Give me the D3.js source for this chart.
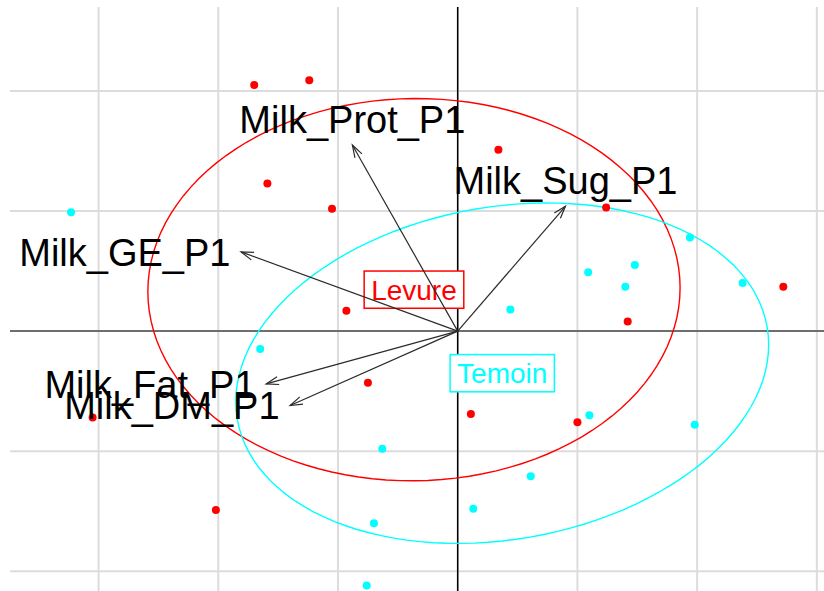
<!DOCTYPE html>
<html>
<head>
<meta charset="utf-8">
<script src="https://cdn.jsdelivr.net/npm/d3@7"></script>
<style>
  html, body { margin: 0; padding: 0; background: #fff; }
  svg { display: block; }
  text { font-family: 'Liberation Sans', Arial, sans-serif; }
</style>
</head>
<body>
<svg id="chart" width="824" height="591"></svg>
<script>
// Row scores on the first two axes, split by class (grid step d = 1)
const levure_x = [-1.70, -1.24, -1.59, -1.05, 0.34, 1.24, 2.72, -0.93, 1.42, -0.75, -3.05, -2.02, 0.11, 1.00, 0.02];
const levure_y = [2.05, 2.09, 1.23, 1.02, 1.51, 1.03, 0.37, 0.17, 0.08, -0.43, -0.72, -1.49, -0.69, -0.76, -0.28];
const temoin_x = [-3.23, 1.94, 1.09, 1.48, 1.40, 2.38, 0.44, -1.65, -0.63, -0.70, -0.76, 1.10, 1.98, 0.61, 0.13];
const temoin_y = [0.99, 0.78, 0.49, 0.55, 0.37, 0.40, 0.18, -0.15, -0.98, -1.60, -2.12, -0.70, -0.78, -1.21, -1.48];

const class_names = ['Levure', 'Temoin'];
const class_colors = ['red', 'cyan'];

// Variable arrows (co-ordinates of the tips)
const var_names = ['Milk_Prot_P1', 'Milk_Sug_P1', 'Milk_GE_P1', 'Milk_Fat_P1', 'Milk_DM_P1'];
const var_x = [-0.88, 0.90, -1.81, -1.60, -1.40];
const var_y = [1.55, 1.04, 0.66, -0.44, -0.62];

const x_lim = [-3.74, 3.11];
const y_lim = [-2.24, 2.70];
const grid_step = 1;
const cellipse = 1.5;

const svg = d3.select('#chart');
const box = { left: 10, top: 7, right: 830, bottom: 600 };

const x = d3.scaleLinear().domain(x_lim).range([box.left, box.right]);
const y = d3.scaleLinear().domain(y_lim).range([box.bottom, box.top]);

svg.append('clipPath')
  .attr('id', 'plot_clip')
  .append('rect')
  .attr('x', box.left).attr('y', box.top)
  .attr('width', box.right - box.left).attr('height', box.bottom - box.top);

const plot = svg.append('g').attr('clip-path', 'url(#plot_clip)');

// grid
const gx = d3.range(Math.ceil(x_lim[0] / grid_step) * grid_step, x_lim[1], grid_step);
const gy = d3.range(Math.ceil(y_lim[0] / grid_step) * grid_step, y_lim[1], grid_step);

plot.append('g').selectAll('line').data(gx).join('line')
  .attr('x1', d => x(d)).attr('x2', d => x(d))
  .attr('y1', box.top).attr('y2', box.bottom)
  .attr('stroke', '#dcdcdc').attr('stroke-width', 2);
plot.append('g').selectAll('line').data(gy).join('line')
  .attr('y1', d => y(d)).attr('y2', d => y(d))
  .attr('x1', box.left).attr('x2', box.right)
  .attr('stroke', '#dcdcdc').attr('stroke-width', 2);

// axes through the origin
plot.append('line')
  .attr('x1', box.left).attr('x2', box.right)
  .attr('y1', y(0)).attr('y2', y(0))
  .attr('stroke', '#6e6e6e').attr('stroke-width', 2);
plot.append('line')
  .attr('x1', x(0)).attr('x2', x(0))
  .attr('y1', box.top).attr('y2', box.bottom)
  .attr('stroke', '#000').attr('stroke-width', 1.5);

// class statistics (uniform row weights, like ade4)
function classStats(xs, ys) {
  const n = xs.length;
  const mx = d3.mean(xs);
  const my = d3.mean(ys);
  const vx = d3.sum(xs, d => (d - mx) * (d - mx)) / n;
  const vy = d3.sum(ys, d => (d - my) * (d - my)) / n;
  const cxy = d3.sum(xs.map((d, i) => (d - mx) * (ys[i] - my))) / n;
  return { mx, my, vx, vy, cxy };
}

function ellipsePoints(s, coeff) {
  const sx = Math.sqrt(s.vx);
  const sy = Math.sqrt(s.vy);
  const rho = s.cxy / (sx * sy);
  const r = Math.sqrt(1 - rho * rho);
  return d3.range(0, 120).map((i) => {
    const t = 2 * Math.PI * i / 120;
    return [s.mx + coeff * sx * Math.cos(t),
      s.my + coeff * sy * (rho * Math.cos(t) + r * Math.sin(t))];
  });
}

const classes = [
  { name: class_names[0], color: class_colors[0], xs: levure_x, ys: levure_y },
  { name: class_names[1], color: class_colors[1], xs: temoin_x, ys: temoin_y },
];
classes.forEach((c) => { c.stats = classStats(c.xs, c.ys); });

const ell_line = d3.line().x(d => x(d[0])).y(d => y(d[1])).curve(d3.curveLinearClosed);

plot.append('g').selectAll('path').data(classes).join('path')
  .attr('d', c => ell_line(ellipsePoints(c.stats, cellipse)))
  .attr('fill', 'none')
  .attr('stroke', c => c.color)
  .attr('stroke-width', 1.4);

classes.forEach((c) => {
  plot.append('g').selectAll('circle').data(c.xs).join('circle')
    .attr('cx', d => x(d))
    .attr('cy', (d, i) => y(c.ys[i]))
    .attr('r', 4)
    .attr('fill', c.color);
});

// class labels with boxes at the centroids
const class_fs = 28;
classes.forEach((c) => {
  const g = plot.append('g');
  const cx = x(c.stats.mx);
  const cy = y(c.stats.my);
  const rect = g.append('rect');
  const txt = g.append('text')
    .attr('x', cx).attr('y', cy)
    .attr('dy', '0.36em')
    .attr('text-anchor', 'middle')
    .attr('font-size', class_fs)
    .attr('fill', c.color)
    .text(c.name);
  const w = txt.node().getComputedTextLength() + 2 * 0.25 * class_fs;
  const h = 1.33 * class_fs;
  rect.attr('x', cx - w / 2).attr('y', cy - h / 2)
    .attr('width', w).attr('height', h)
    .attr('fill', 'white')
    .attr('stroke', c.color)
    .attr('stroke-width', 1.5);
});

// arrows for the variables
const arr_len = 13;
const arr_angle = 18 * Math.PI / 180;
const arrows = plot.append('g')
  .attr('stroke', '#2b2b2b')
  .attr('stroke-width', 1.2)
  .attr('fill', 'none');

var_names.forEach((name, i) => {
  const x0 = x(0);
  const y0 = y(0);
  const x1 = x(var_x[i]);
  const y1 = y(var_y[i]);
  const a = Math.atan2(y1 - y0, x1 - x0);
  arrows.append('line')
    .attr('x1', x0).attr('y1', y0).attr('x2', x1).attr('y2', y1);
  arrows.append('path')
    .attr('d', `M${x1 - arr_len * Math.cos(a - arr_angle)},${y1 - arr_len * Math.sin(a - arr_angle)}`
      + `L${x1},${y1}`
      + `L${x1 - arr_len * Math.cos(a + arr_angle)},${y1 - arr_len * Math.sin(a + arr_angle)}`);
});

// variable labels placed around the tips (as scatterutil.eti.circ)
const var_fs = 38;
const labels = plot.append('g').attr('font-size', var_fs).attr('fill', '#000');
var_names.forEach((name, i) => {
  const vx = var_x[i];
  const vy = var_y[i];
  const px = x(vx);
  const py = y(vy);
  const pad = 0.278 * var_fs;
  const yh = 0.68 * var_fs;
  let anchor = 'middle';
  let lx = px;
  let ly = py;
  if (vx > vy && vx > -vy) {
    anchor = 'start'; lx = px + pad;
  } else if (vx > vy && vx <= -vy) {
    ly = py + yh;
  } else if (vx <= vy && vx <= -vy) {
    anchor = 'end'; lx = px - pad;
  } else {
    ly = py - yh;
  }
  labels.append('text')
    .attr('x', lx).attr('y', ly)
    .attr('dy', '0.36em')
    .attr('text-anchor', anchor)
    .text(name);
});
</script>
</body>
</html>
